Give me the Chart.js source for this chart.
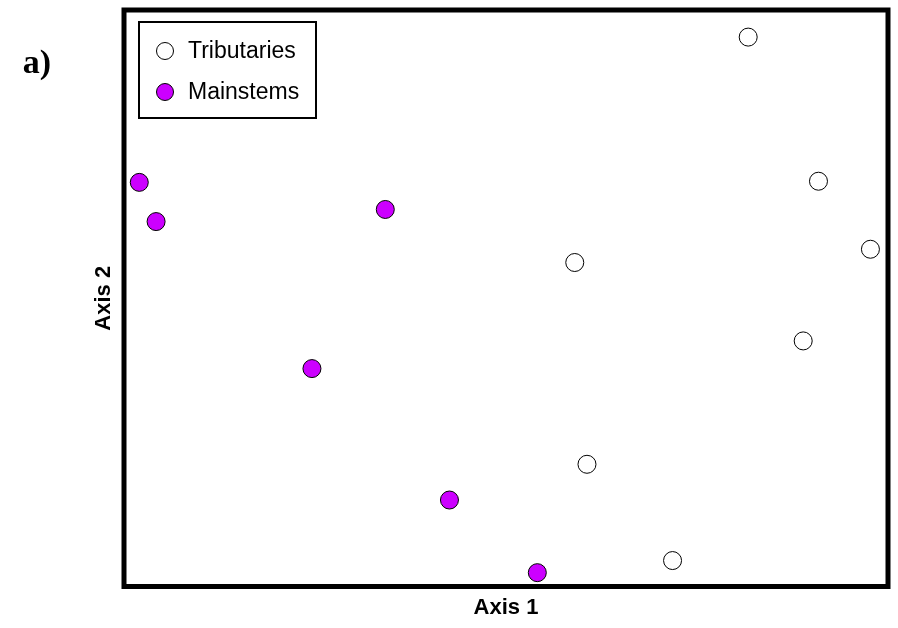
<!DOCTYPE html>
<html>
<head>
<meta charset="utf-8">
<script src="https://cdn.jsdelivr.net/npm/chart.js@4.4.0/dist/chart.umd.min.js"></script>
<style>
  html, body { margin: 0; padding: 0; background: #fff; }
  #wrap { width: 898px; height: 628px; }
</style>
</head>
<body>
<div id="wrap"><canvas id="ordination" width="898" height="628"></canvas></div>
<script>
// scores (arbitrary 0-10 units)
const tribX = [8.17, 9.09, 9.77, 5.90, 8.89, 6.06, 7.18];
const tribY = [9.53, 7.03, 5.85, 5.62, 4.26, 2.12, 0.45];
const mainX = [0.20, 0.42, 3.42, 2.46, 4.26, 5.41];
const mainY = [7.01, 6.33, 6.54, 3.78, 1.50, 0.24];
const seriesNames = ["Tributaries", "Mainstems"];
const axisTitles = ["Axis 1", "Axis 2"];
const panelLabel = "a)";

const sans = "'Liberation Sans', Arial, sans-serif";
const toPoints = (xs, ys) => xs.map((x, i) => ({ x: x, y: ys[i] }));

// frame, boxed legend and panel letter
const framePlugin = {
    id: "frameAndLegend",
    afterDraw: (chart) => {
        const { ctx, chartArea } = chart;
        ctx.save();

        // thick box round the plot
        ctx.strokeStyle = "#000";
        ctx.lineWidth = 5;
        ctx.strokeRect(chartArea.left, chartArea.top,
            chartArea.right - chartArea.left, chartArea.bottom - chartArea.top);

        // legend box
        ctx.lineWidth = 2;
        ctx.fillStyle = "#fff";
        ctx.fillRect(139, 22, 177, 96);
        ctx.strokeRect(139, 22, 177, 96);

        const rows = [51, 92];
        chart.data.datasets.forEach((ds, i) => {
            ctx.beginPath();
            ctx.arc(165, rows[i], 8.5, 0, Math.PI * 2);
            ctx.fillStyle = ds.backgroundColor;
            ctx.fill();
            ctx.lineWidth = 1;
            ctx.strokeStyle = "#000";
            ctx.stroke();

            ctx.fillStyle = "#000";
            ctx.font = "23px " + sans;
            ctx.textAlign = "left";
            ctx.textBaseline = "middle";
            ctx.fillText(ds.label, 188, rows[i] + 1);
        });

        // panel letter
        ctx.font = "bold 34px 'Liberation Serif', 'Times New Roman', serif";
        ctx.textAlign = "center";
        ctx.textBaseline = "middle";
        ctx.fillStyle = "#000";
        ctx.fillText(panelLabel, 37, 64);

        ctx.restore();
    },
};

new Chart(document.getElementById("ordination"), {
    type: "scatter",
    data: {
        datasets: [
            {
                label: seriesNames[0],
                data: toPoints(tribX, tribY),
                backgroundColor: "#ffffff",
                borderColor: "#000000",
                borderWidth: 1,
                pointRadius: 9,
            },
            {
                label: seriesNames[1],
                data: toPoints(mainX, mainY),
                backgroundColor: "#cc00ff",
                borderColor: "#000000",
                borderWidth: 1,
                pointRadius: 9,
            },
        ],
    },
    options: {
        responsive: false,
        animation: false,
        layout: { padding: { top: 7, right: 2, left: 86.3, bottom: 0 } },
        plugins: {
            legend: { display: false },
            tooltip: { enabled: false },
        },
        scales: {
            x: {
                min: 0,
                max: 10,
                ticks: { display: false },
                grid: { display: false, drawTicks: false },
                border: { display: false },
                title: {
                    display: true,
                    text: axisTitles[0],
                    color: "#000",
                    font: { family: sans, size: 22, weight: "bold" },
                    padding: { top: 8, bottom: 7.1 },
                },
            },
            y: {
                min: 0,
                max: 10,
                ticks: { display: false },
                grid: { display: false, drawTicks: false },
                border: { display: false },
                title: {
                    display: true,
                    text: axisTitles[1],
                    color: "#000",
                    font: { family: sans, size: 22, weight: "bold" },
                    padding: { top: 4, bottom: 7.3 },
                },
            },
        },
    },
    plugins: [framePlugin],
});
</script>
</body>
</html>
